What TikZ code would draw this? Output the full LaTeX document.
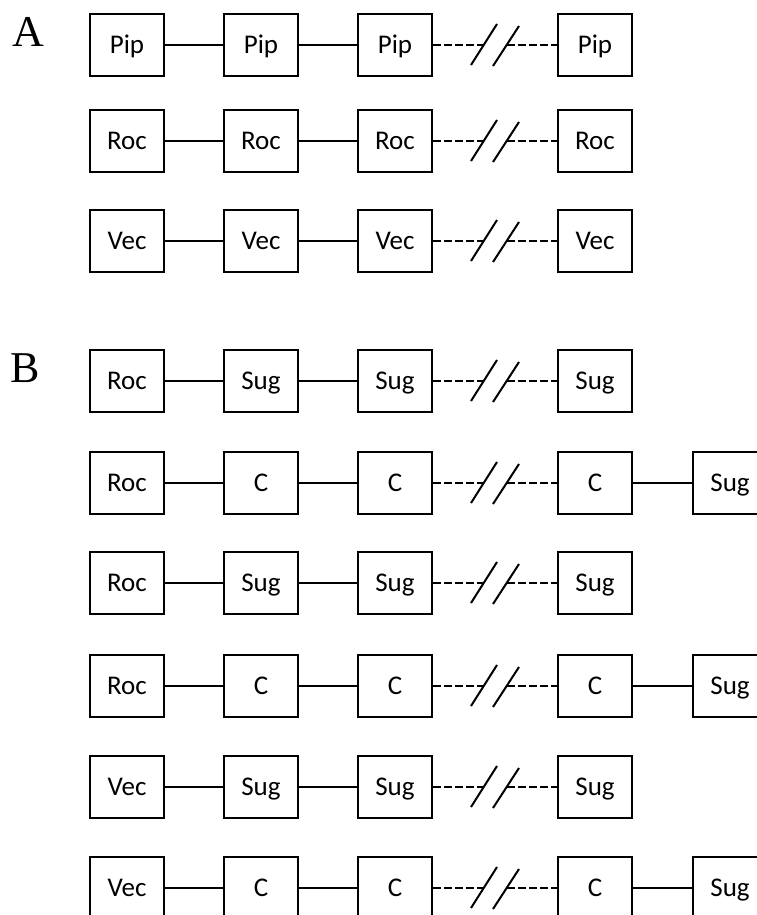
\documentclass[tikz,border=0pt]{standalone}
\usepackage{fontspec}
\setmainfont{Liberation Serif}
\newfontfamily\boxfont{Carlito}
\usetikzlibrary{calc}

\tikzset{
  unit/.style={draw, line width=2pt, minimum width=74pt, minimum height=62pt,
    inner sep=0pt, text height=17pt, text depth=0pt,
    font=\boxfont\fontsize{27}{27}\selectfont},
  link/.style={line width=2pt},
  gapline/.style={line width=2pt, dash pattern=on 8pt off 3pt},
  panel/.style={anchor=base west, inner sep=0pt, font=\fontsize{44}{44}\selectfont},
}

\begin{document}
\begin{tikzpicture}[x=1pt, y=-1pt]
\useasboundingbox (0,0) rectangle (757,915);
\clip (0,0) rectangle (757,915);
\node[panel] (labA) at (12,47) {A};
\node[panel] (labB) at (10,382) {B};
% one chain per row: first box, then three of the same kind, the break between 3rd and 4th
\foreach \y/\a/\b [count=\i] in {45/Pip/Pip, 141/Roc/Roc, 241/Vec/Vec,
    381/Roc/Sug, 483/Roc/C, 583/Roc/Sug, 686/Roc/C, 787/Vec/Sug, 888/Vec/C} {
  \node[unit] (r\i-1) at (127,\y) {\a};
  \node[unit] (r\i-2) at (261,\y) {\b};
  \node[unit] (r\i-3) at (395,\y) {\b};
  \node[unit] (r\i-4) at (595,\y) {\b};
  \coordinate (r\i-s1) at (484,\y);
  \coordinate (r\i-s2) at (507,\y);
  \draw[link] (r\i-1) -- (r\i-2);
  \draw[link] (r\i-2) -- (r\i-3);
  \draw[gapline] (r\i-3) -- (r\i-s1);
  \draw[gapline] (r\i-s2) -- (r\i-4);
  \draw[link] ($(r\i-s1)+(-13,20)$) -- ($(r\i-s1)+(13,-21)$);
  \draw[link] ($(r\i-s2)+(-14,21)$) -- ($(r\i-s2)+(12,-19)$);
}
% chains of C end with Sug
\foreach \i in {5,7,9} {
  \node[unit] (r\i-5) at ($(r\i-4)+(135,0)$) {Sug};
  \draw[link] (r\i-4) -- (r\i-5);
}
\end{tikzpicture}
\end{document}
